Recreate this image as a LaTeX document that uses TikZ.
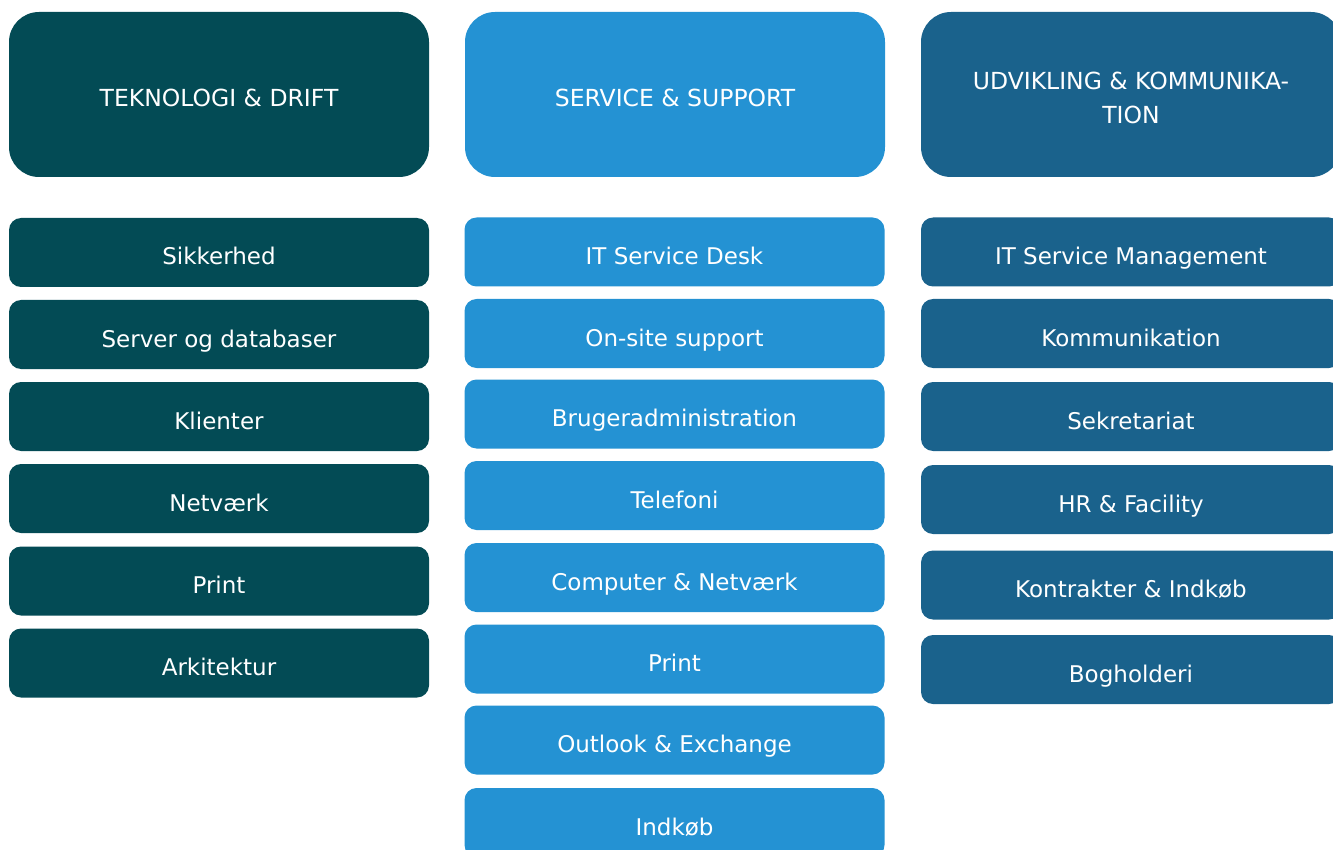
\documentclass[tikz,border=0pt]{standalone}
\usepackage{fontspec}
\setmainfont{DejaVu Sans}

\definecolor{drift}{RGB}{3,75,85}
\definecolor{service}{RGB}{36,146,211}
\definecolor{udvikling}{RGB}{26,98,140}

\tikzset{
  tile/.style={rectangle, rounded corners=12pt, inner sep=0pt,
    minimum width=420pt, minimum height=69pt,
    text=white, font=\fontsize{23}{34}\selectfont},
  item/.style={tile, text height=30pt, text depth=5pt},
  dept/.style={tile, rounded corners=30pt, minimum height=165pt,
    font=\fontsize{23.5}{34}\selectfont},
}

\begin{document}
\begin{tikzpicture}[x=1pt,y=-1pt]

\useasboundingbox (0,0) rectangle (1333,850);
\clip (0,0) rectangle (1333,850);

% the three departments
\node[dept, fill=drift, text height=30pt, text depth=5pt] (drift) at (219,94.5) {TEKNOLOGI \& DRIFT};
\node[dept, fill=service, text height=30pt, text depth=5pt] (service) at (675,94.5) {SERVICE \& SUPPORT};
\node[dept, fill=udvikling] (udv) at (1131,94.5) {};
\node[text=white, font=\fontsize{23.5}{34}\selectfont, align=center, inner sep=0pt]
  (udv-title) at ([yshift=-3pt]udv.center) {UDVIKLING \& KOMMUNIKA-\\TION};

% teams under each department
\foreach \y/\txt [count=\i] in {252.5/Sikkerhed, 334.5/Server og databaser,
    416.5/Klienter, 498.5/Netværk, 581/Print, 663/Arkitektur}
  \node[item, fill=drift] (drift-\i) at (219,\y) {\txt};

\foreach \y/\txt [count=\i] in {252/IT Service Desk, 333.5/On-site support,
    414/Brugeradministration, 495.5/Telefoni, 577.5/Computer \& Netværk,
    659/Print, 740/Outlook \& Exchange, 822.5/Indkøb}
  \node[item, fill=service] (service-\i) at (674.5,\y) {\txt};

\foreach \y/\txt [count=\i] in {252/IT Service Management, 333.5/Kommunikation,
    416.5/Sekretariat, 499.5/HR \& Facility, 585/Kontrakter \& Indkøb,
    669.5/Bogholderi}
  \node[item, fill=udvikling] (udv-\i) at (1131,\y) {\txt};

\end{tikzpicture}
\end{document}
